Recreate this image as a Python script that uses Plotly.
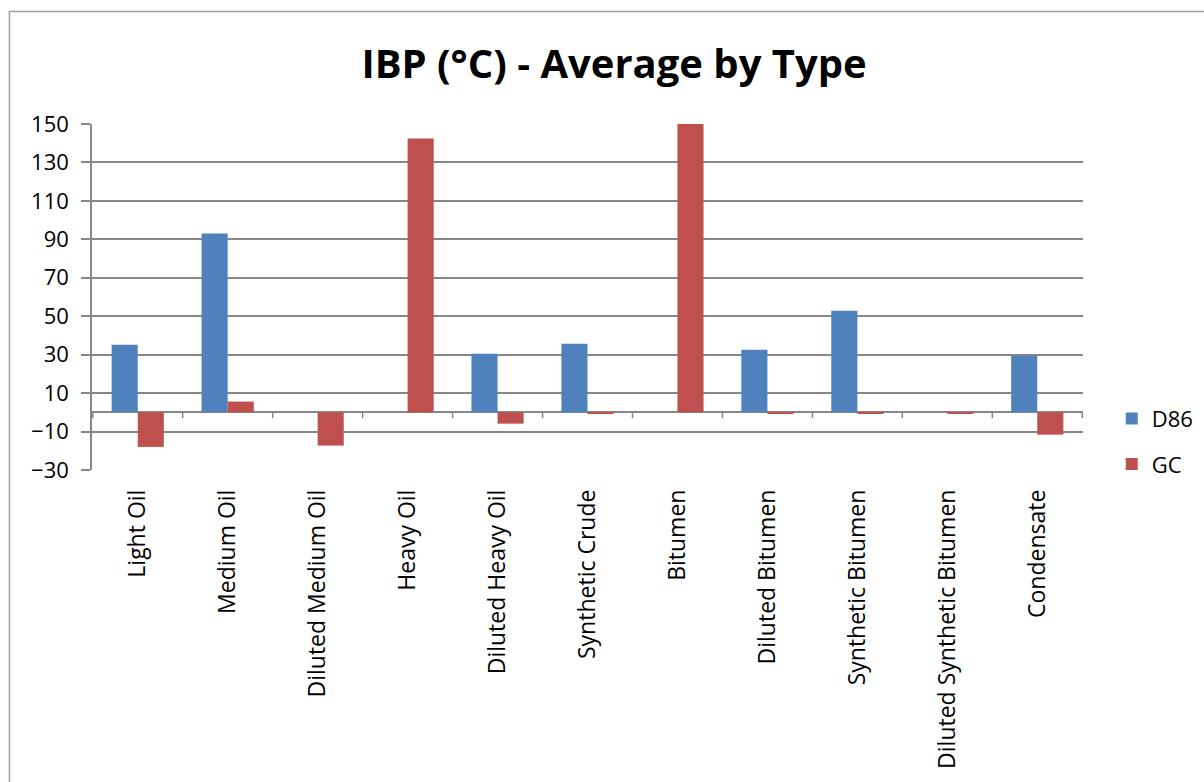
import plotly.graph_objects as go

categories = ["Light Oil", "Medium Oil", "Diluted Medium Oil", "Heavy Oil",
              "Diluted Heavy Oil", "Synthetic Crude", "Bitumen", "Diluted Bitumen",
              "Synthetic Bitumen", "Diluted Synthetic Bitumen", "Condensate"]
d86 = [35.2, 93.0, None, None, 30.5, 35.7, None, 32.6, 52.9, None, 29.5]
gc = [-18.0, 5.6, -17.3, 142.4, -5.9, -0.8, 150.0, -0.8, -0.8, -0.8, -11.6]
y_ticks = [-30, -10, 10, 30, 50, 70, 90, 110, 130, 150]

GRID = "#878787"
FONT = "Open Sans"

fig = go.Figure()
fig.add_trace(go.Bar(name="D86", x=categories, y=d86, marker_color="#4F81BD",
                     marker_line_width=0, legendgroup="d86"))
fig.add_trace(go.Bar(name="GC", x=categories, y=gc, marker_color="#C0504D",
                     marker_line_width=0, legendgroup="gc"))

# category-boundary tick marks hanging below the zero line
shapes = []
for i in range(len(categories) + 1):
    shapes.append(dict(type="line", xref="x", yref="y",
                       x0=i - 0.5, x1=i - 0.5, y0=0, y1=-3,
                       line=dict(color=GRID, width=1.5)))
# outer chart-area border
shapes.append(dict(type="rect", xref="paper", yref="paper",
                   x0=-0.0833, x1=1.3, y0=-1.2, y1=1.325,
                   line=dict(color="#A0A0A0", width=1.5), fillcolor="rgba(0,0,0,0)",
                   layer="below"))

fig.update_layout(
    width=1204, height=782,
    margin=dict(l=92, r=121, t=124, b=312, autoexpand=False),
    paper_bgcolor="white", plot_bgcolor="white",
    title=dict(text="<b>IBP (°C) - Average by Type</b>", x=0.51, xanchor="center",
               y=0.918, yanchor="middle",
               font=dict(family=FONT, size=40, color="black")),
    barmode="group", bargap=0.42, bargroupgap=0,
    font=dict(family=FONT, size=20, color="black"),
    showlegend=True,
    legend=dict(x=1.029, y=0.082, xanchor="left", yanchor="middle",
                font=dict(family=FONT, size=22, color="black"),
                tracegroupgap=14, itemwidth=30, bgcolor="rgba(0,0,0,0)"),
    shapes=shapes,
)
fig.update_yaxes(range=[-30, 150], tickvals=y_ticks, showgrid=True, gridcolor=GRID,
                 gridwidth=1.5, showline=True, linecolor=GRID, linewidth=1.5,
                 ticks="outside", ticklen=9, tickcolor=GRID, tickwidth=1.5,
                 ticklabelstandoff=8,
                 zeroline=True, zerolinecolor=GRID, zerolinewidth=1.5,
                 tickfont=dict(family=FONT, size=22, color="black"))
fig.update_xaxes(tickangle=-90, showgrid=False, showline=False, ticks="",
                 ticklabelstandoff=14,
                 tickfont=dict(family=FONT, size=23, color="black"))

fig.write_html("out.html")
